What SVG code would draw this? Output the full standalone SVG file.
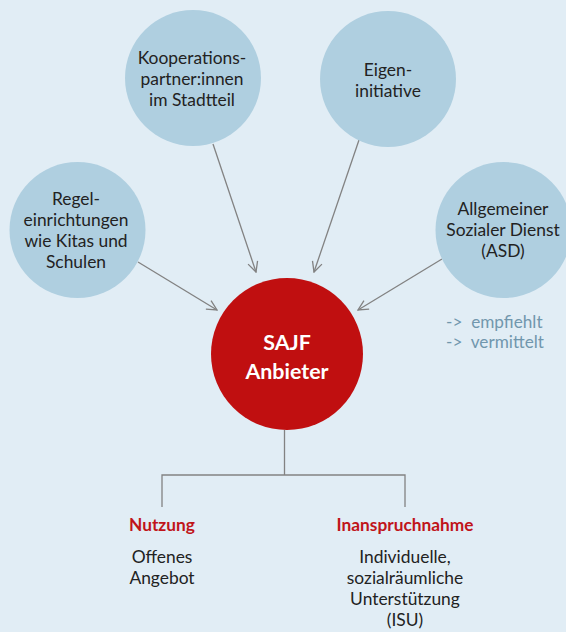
<svg xmlns="http://www.w3.org/2000/svg" width="566" height="632" viewBox="0 0 566 632">
<defs>
<marker id="arr" viewBox="0 0 12 12" refX="11" refY="6" markerWidth="12" markerHeight="12" markerUnits="userSpaceOnUse" orient="auto">
<path d="M1,1 L11,6 L1,11" fill="none" stroke="#828282" stroke-width="1.3"/>
</marker>
<style>
.bg{fill:#e1edf5}
.src{fill:#afcfe0}
.core{fill:#c00f10}
.t{font-family:Lato,"Open Sans","Liberation Sans",sans-serif;font-size:17.4px;fill:#222;text-anchor:middle}
.w{font-family:Lato,"Open Sans","Liberation Sans",sans-serif;font-size:21.4px;font-weight:bold;fill:#fff;text-anchor:middle}
.h{font-family:Lato,"Open Sans","Liberation Sans",sans-serif;font-size:17.3px;font-weight:bold;fill:#c0141a;text-anchor:middle}
.n{font-family:Lato,"Open Sans","Liberation Sans",sans-serif;font-size:17.2px;fill:#7197ad}
.c{fill:none;stroke:#828282;stroke-width:1.3}
</style>
</defs>
<rect class="bg" x="0" y="0" width="566" height="632"/>
<g id="connectors">
<line class="c" x1="138" y1="262" x2="217" y2="310" marker-end="url(#arr)"/>
<line class="c" x1="213" y1="144" x2="256" y2="272" marker-end="url(#arr)"/>
<line class="c" x1="359" y1="140" x2="314" y2="272" marker-end="url(#arr)"/>
<line class="c" x1="442" y1="259" x2="358" y2="310" marker-end="url(#arr)"/>
<polyline class="c" points="162,507 162,475 405,475 405,507"/>
<line class="c" x1="284.5" y1="430" x2="284.5" y2="475"/>
</g>
<g id="kooperation">
<circle class="src" cx="193" cy="78" r="68"/>
<text class="t" x="192" y="64">Kooperations-</text>
<text class="t" x="192" y="85">partner:innen</text>
<text class="t" x="192" y="106">im Stadtteil</text>
</g>
<g id="eigeninitiative">
<circle class="src" cx="388" cy="79" r="68"/>
<text class="t" x="388" y="76">Eigen-</text>
<text class="t" x="388" y="97">initiative</text>
</g>
<g id="regel">
<circle class="src" cx="77.5" cy="230" r="68"/>
<text class="t" x="76" y="205">Regel-</text>
<text class="t" x="76" y="226">einrichtungen</text>
<text class="t" x="76" y="247">wie Kitas und</text>
<text class="t" x="76" y="268">Schulen</text>
</g>
<g id="asd">
<circle class="src" cx="503.5" cy="230" r="68"/>
<text class="t" x="503" y="215">Allgemeiner</text>
<text class="t" x="503" y="236">Sozialer Dienst</text>
<text class="t" x="503" y="257">(ASD)</text>
</g>
<g id="note">
<text class="n" x="446" y="328">-&gt;&#160; empfiehlt</text>
<text class="n" x="446" y="348">-&gt;&#160; vermittelt</text>
</g>
<g id="sajf">
<circle class="core" cx="287" cy="354" r="76"/>
<text class="w" x="287" y="350">SAJF</text>
<text class="w" x="287" y="379">Anbieter</text>
</g>
<g id="nutzung">
<text class="h" x="162" y="531">Nutzung</text>
<text class="t" x="162" y="563">Offenes</text>
<text class="t" x="162" y="584">Angebot</text>
</g>
<g id="inanspruchnahme">
<text class="h" x="405" y="531">Inanspruchnahme</text>
<text class="t" x="405" y="563">Individuelle,</text>
<text class="t" x="405" y="584">sozialräumliche</text>
<text class="t" x="405" y="605">Unterstützung</text>
<text class="t" x="405" y="626">(ISU)</text>
</g>
</svg>
